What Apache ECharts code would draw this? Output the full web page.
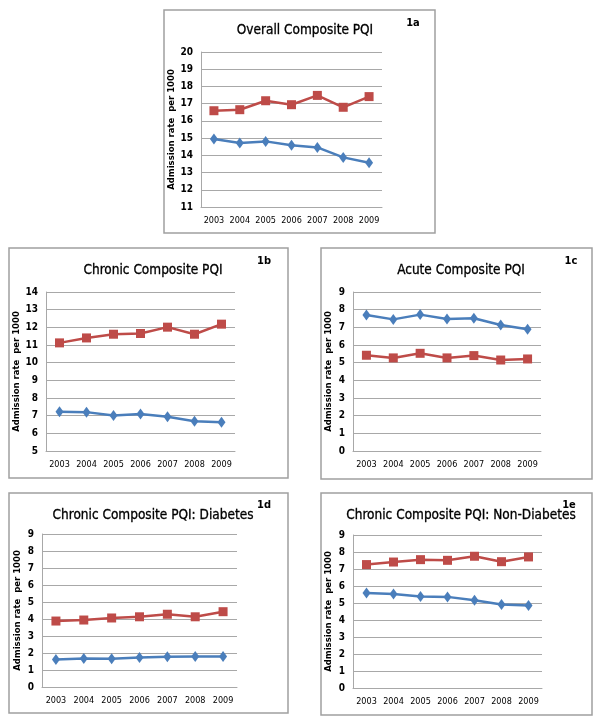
<!DOCTYPE html>
<html><head><meta charset="utf-8">
<script src="https://cdn.jsdelivr.net/npm/echarts@6/dist/echarts.min.js"></script>
<style>html,body{margin:0;padding:0;background:#fff}#c{width:602px;height:726px}</style>
</head><body><div id="c"></div>
<script>
const years = ['2003','2004','2005','2006','2007','2008','2009'];
const titles = ['Overall Composite PQI','Chronic Composite PQI','Acute Composite PQI','Chronic Composite PQI: Diabetes','Chronic Composite PQI: Non-Diabetes'];
const panelLabels = ['1a','1b','1c','1d','1e'];
const redOverall = [16.59,16.65,17.17,16.94,17.48,16.79,17.41];
const blueOverall = [14.95,14.72,14.81,14.58,14.46,13.88,13.57];
const redChronic = [11.12,11.40,11.61,11.65,12.01,11.61,12.18];
const blueChronic = [7.22,7.20,7.01,7.09,6.94,6.69,6.63];
const blueAcute = [7.70,7.45,7.72,7.47,7.51,7.13,6.89];
const redAcute = [5.42,5.27,5.53,5.27,5.40,5.15,5.21];
const redDiab = [3.88,3.94,4.06,4.13,4.28,4.13,4.43];
const blueDiab = [1.62,1.68,1.66,1.74,1.78,1.80,1.80];
const redNonDiab = [7.26,7.41,7.55,7.51,7.75,7.43,7.71];
const blueNonDiab = [5.59,5.53,5.38,5.36,5.16,4.91,4.85];
const yMins = [11,5,0,0,0];
const yMaxs = [20,14,9,9,9];
const redSets = [redOverall, redChronic, redAcute, redDiab, redNonDiab];
const blueSets = [blueOverall, blueChronic, blueAcute, blueDiab, blueNonDiab];

const grids = [
  {left:201, top:52, width:181, height:155},
  {left:46, top:292, width:189, height:159},
  {left:353, top:292, width:188, height:159},
  {left:42, top:534, width:195, height:153},
  {left:353, top:535, width:189, height:153}
];
const boxes = [
  [164,10,271,223],[9,248,279,230],[321,248,271,231],[9,493,279,220],[321,493,271,222]
];
const titlePos = [[300,18],[148,258],[456,258],[148,503],[456,503]];
const labelPos = [[413,18],[264,256],[571,256],[264,500],[569,500]];

const FF = "'Liberation Sans Narrow','DejaVu Sans Condensed','Open Sans',sans-serif";
const BLUE = '#4a7ebb', RED = '#be4b48', GRID = '#a8a8a8';

const option = {
  animation:false,
  backgroundColor:'#fff',
  grid: grids,
  title: titles.map((t,i)=>({text:t, left:titlePos[i][0], top:titlePos[i][1], textAlign:'center',
      textStyle:{fontFamily:FF, fontSize:13.5, fontWeight:'normal', color:'#000',
        textBorderColor:'#000', textBorderWidth:0.3}})),
  graphic: boxes.map(b=>({type:'rect', shape:{x:b[0],y:b[1],width:b[2],height:b[3]},
      style:{fill:'none', stroke:'#a0a0a0', lineWidth:1.5}, z:0}))
    .concat(panelLabels.map((l,i)=>({type:'text', x:labelPos[i][0], y:labelPos[i][1],
      style:{text:l, fontFamily:FF, fontSize:11, fontWeight:'bold', fill:'#000', textAlign:'center'}}))),
  xAxis: grids.map((g,i)=>({type:'category', gridIndex:i, data:years, boundaryGap:true,
      axisLine:{lineStyle:{color:GRID}}, axisTick:{show:false},
      axisLabel:{interval:0, fontFamily:FF, fontSize:9, color:'#000', margin:9}})),
  yAxis: grids.map((g,i)=>({type:'value', gridIndex:i, min:yMins[i], max:yMaxs[i], interval:1,
      name:'Admission rate  per 1000', nameLocation:'middle', nameGap:20,
      nameTextStyle:{fontFamily:'DejaVu Sans', fontSize:8.5, fontWeight:'bold', color:'#000'},
      axisLine:{show:true, lineStyle:{color:GRID}}, axisTick:{show:false},
      splitLine:{lineStyle:{color:GRID}},
      axisLabel:{fontFamily:FF, fontSize:10, fontWeight:'bold', color:'#000', margin:8}})),
  series: []
};
for (let i=0;i<5;i++){
  option.series.push({type:'line', xAxisIndex:i, yAxisIndex:i, data:redSets[i],
    symbol:'rect', symbolSize:9, lineStyle:{color:RED, width:2.5}, itemStyle:{color:RED}});
  option.series.push({type:'line', xAxisIndex:i, yAxisIndex:i, data:blueSets[i],
    symbol:'diamond', symbolSize:[8,11], lineStyle:{color:BLUE, width:2.5}, itemStyle:{color:BLUE}});
}
const chart = echarts.init(document.getElementById('c'), null, {renderer:'canvas'});
chart.setOption(option);
</script></body></html>
